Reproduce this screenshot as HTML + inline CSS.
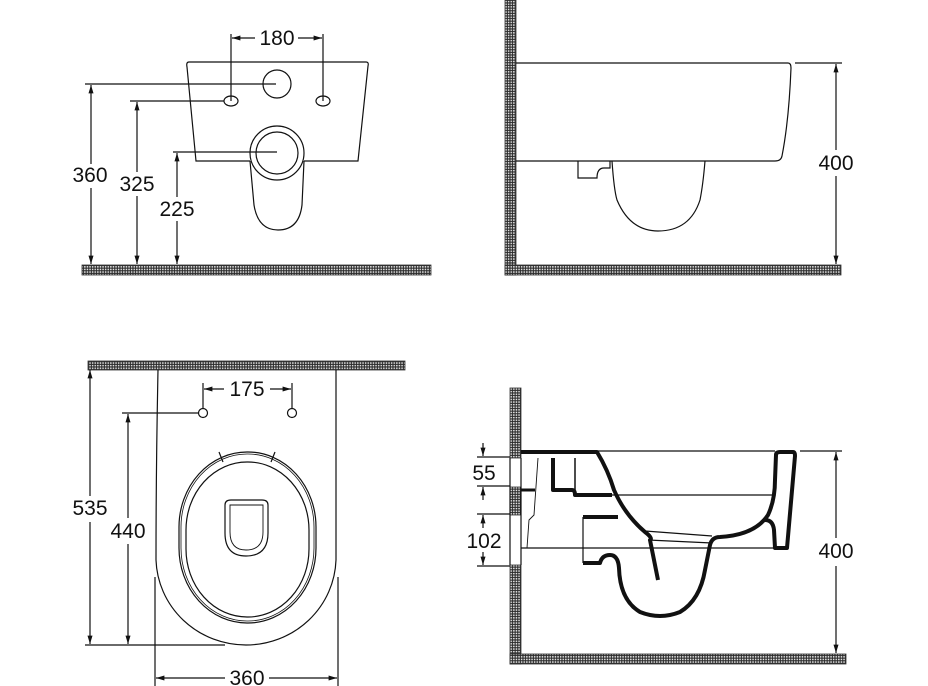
<!DOCTYPE html>
<html><head><meta charset="utf-8"><style>
html,body{margin:0;padding:0;background:#fff;}
svg{display:block;}
text{font-family:"Liberation Sans",sans-serif;font-size:21px;fill:#111;text-anchor:middle;}
</style></head><body>
<svg width="928" height="686" viewBox="0 0 928 686" xmlns="http://www.w3.org/2000/svg">
<defs>
<pattern id="h" width="2.6" height="2.6" patternUnits="userSpaceOnUse">
<rect width="2.6" height="2.6" fill="#2a2a2a"/><rect x="0.9" y="0.9" width="1.5" height="1.5" fill="#e8e8e8"/>
</pattern>
<marker id="a" viewBox="0 0 10 10" refX="10" refY="5" markerWidth="7" markerHeight="7" orient="auto-start-reverse"><path d="M0,2 L10,5 L0,8 z" fill="#111"/></marker>
</defs>
<g fill="none" stroke="#111" stroke-width="1.2">
<!-- TOP LEFT -->
<rect x="82" y="265" width="349" height="10" fill="url(#h)" stroke="#333" stroke-width="0.8"/>
<path d="M250,161 L196,161 L187,67 Q186,62 189,62 L366,62 Q369,62 368,66 L358,161 L304,161"/>
<path d="M250,161 L254,205 Q258,230 278,230 Q299,230 302,205 L304,161"/>
<circle cx="277" cy="84" r="14"/>
<ellipse cx="231" cy="101" rx="7" ry="5"/><ellipse cx="323" cy="101" rx="7" ry="5"/>
<circle cx="277" cy="153" r="27"/><circle cx="277" cy="153" r="21"/>
<path d="M231,34 V101 M323,34 V101"/>
<path d="M255,38 H232" marker-end="url(#a)"/><path d="M298,38 H322" marker-end="url(#a)"/>
<path d="M85,84 H276 M130,101 H224 M173,152 H277"/>
<path d="M91,164 V85" marker-end="url(#a)"/><path d="M91,188 V264" marker-end="url(#a)"/>
<path d="M137,172 V102" marker-end="url(#a)"/><path d="M137,196 V264" marker-end="url(#a)"/>
<path d="M177,197 V153" marker-end="url(#a)"/><path d="M177,221 V264" marker-end="url(#a)"/>
<!-- TOP RIGHT -->
<rect x="505" y="0" width="11" height="275" fill="url(#h)" stroke="#333" stroke-width="0.8"/>
<rect x="505" y="265" width="336" height="10" fill="url(#h)" stroke="#333" stroke-width="0.8"/>
<path d="M516,63 H788 Q791,63 791,68 Q789,120 782,156 Q781,161 775,161 H516"/>
<path d="M578,161 V178 H597 Q597,168 604,168 H610 L610,161"/>
<path d="M612,161 Q614,190 617,200 Q630,231 658,231 Q690,231 700,200 Q703,185 705,161"/>
<path d="M795,63 H842"/>
<path d="M836,150 V64" marker-end="url(#a)"/><path d="M836,176 V264" marker-end="url(#a)"/>
<!-- BOTTOM LEFT -->
<rect x="88" y="361" width="317" height="9" fill="url(#h)" stroke="#333" stroke-width="0.8"/>
<path d="M158,370 Q156,470 156,560 A90,88 0 0 0 246,645 A90,88 0 0 0 336,560 Q336,470 336,370"/>
<rect x="179" y="452" width="137" height="171" rx="68" ry="75"/>
<rect x="181" y="454" width="133" height="167" rx="66" ry="73" stroke-width="0.8"/>
<rect x="186" y="462" width="123" height="155" rx="61" ry="68"/>
<path d="M219,452 L223,462 M275,452 L271,462"/>
<path d="M225,505 Q225,500 231,500 H262 Q268,500 268,505 V533 Q268,556 246,556 Q225,556 225,533 Z"/>
<path d="M230,505 V532 Q230,550 246,550 Q263,550 263,532 V505 Z" stroke-width="0.9"/>
<circle cx="203" cy="413" r="4.5"/><circle cx="292" cy="413" r="4.5"/>
<path d="M203,383 V408 M292,383 V408"/>
<path d="M224,389 H204" marker-end="url(#a)"/><path d="M270,389 H291" marker-end="url(#a)"/>
<path d="M122,413 H199 M85,645 H225"/>
<path d="M90,496 V370" marker-end="url(#a)"/><path d="M90,522 V644" marker-end="url(#a)"/>
<path d="M128,518 V414" marker-end="url(#a)"/><path d="M128,544 V644" marker-end="url(#a)"/>
<path d="M155,577 V686 M338,577 V686"/>
<path d="M225,678 H156" marker-end="url(#a)"/><path d="M269,678 H337" marker-end="url(#a)"/>
<!-- BOTTOM RIGHT -->
<rect x="510" y="388" width="11" height="70" fill="url(#h)" stroke="#333" stroke-width="0.8"/>
<rect x="510" y="487" width="11" height="28" fill="url(#h)" stroke="#333" stroke-width="0.8"/>
<rect x="510" y="565" width="11" height="99" fill="url(#h)" stroke="#333" stroke-width="0.8"/>
<path d="M510,458 V565 M521,458 V565"/>
<rect x="510" y="654" width="336" height="10" fill="url(#h)" stroke="#333" stroke-width="0.8"/>
<path d="M477,457 H510 M477,486 H510 M477,514 H510 M477,566 H510"/>
<path d="M483,443 V456" marker-end="url(#a)"/><path d="M483,500 V487" marker-end="url(#a)"/>
<path d="M483,528 V515" marker-end="url(#a)"/><path d="M483,552 V565" marker-end="url(#a)"/>
<path d="M598,451 H775 M800,451 H842 M612,495 H775 M645,531 L712,536 M648,540 L712,543 M521,548 H775"/>
<path d="M538,458 L534,515 L529,520 L527,548" stroke-width="0.9"/>
<path d="M583,517 V563"/>
<path d="M836,538 V452" marker-end="url(#a)"/><path d="M836,566 V653" marker-end="url(#a)"/>
</g>
<g fill="none" stroke="#111" stroke-width="4" stroke-linejoin="round">
<path d="M521,452 H597 Q608,470 614,490 Q625,515 645,532 Q653,538 650,540 L658,580"/>
<path d="M553,458 V490 H572 Q575,490 575,495 H612"/>
<path d="M575,458 V490" stroke-width="1.5"/>
<path d="M583,517 H618"/>
<path d="M583,563 H600 Q602,555 610,555 Q618,555 619,568 Q620,600 640,612 Q660,620 680,612 Q700,600 705,570 L710,545 Q712,537 720,537 Q755,535 768,515 Q775,500 775,480 L776,455 Q776,452 780,452 H793 Q795,452 795,456 L787,548 H775 L774,530 Q773,520 765,520"/>
<path d="M521,490 H535" stroke-width="3"/>
</g>
<text x="277" y="45">180</text>
<text x="90" y="182">360</text>
<text x="137" y="191">325</text>
<text x="177" y="216">225</text>
<text x="836" y="170">400</text>
<text x="247" y="396">175</text>
<text x="90" y="515">535</text>
<text x="128" y="538">440</text>
<text x="247" y="685">360</text>
<text x="484" y="480">55</text>
<text x="484" y="548">102</text>
<text x="836" y="558">400</text>
</svg>
</body></html>
